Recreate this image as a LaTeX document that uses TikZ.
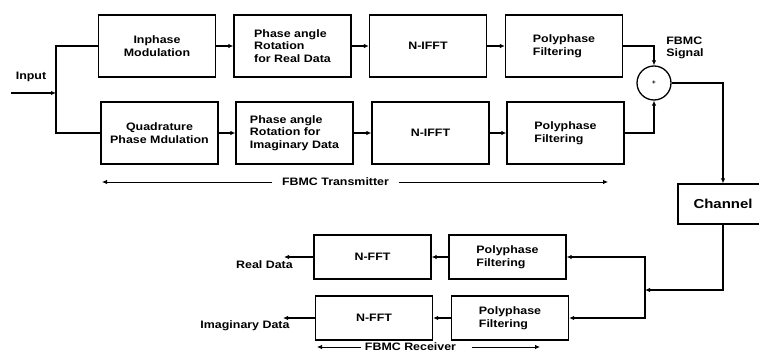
\documentclass[tikz,border=0pt]{standalone}
\usepackage{fontspec}
\setmainfont{Liberation Sans}[FakeStretch=1.15]
\usetikzlibrary{graphs,arrows.meta}
\tikzset{
    block/.style={
        draw,
        rectangle,
        line width=1.3pt,
        minimum width=117pt,
        minimum height=62pt,
        inner sep=2pt,
        align=left,
        font=\fontsize{10.8}{12.5}\selectfont\bfseries,
    },
    rxblock/.style={
        block,
        minimum height=44pt,
    },
    sumnode/.style={
        draw,
        circle,
        line width=1.3pt,
        minimum size=34pt,
        inner sep=0,
        font=\fontsize{6}{6}\selectfont\bfseries,
    },
    plaintext/.style={
        inner sep=0,
        align=left,
        font=\fontsize{10.8}{12.5}\selectfont\bfseries,
    },
    thin arrow/.style={
        line width=0.8pt,
    },
}

\begin{document}
\begin{tikzpicture}[x=1pt, y=-1pt, line width=1.2pt, >={Latex[length=5pt,width=4.5pt]}]
            \clip (0, 0) rectangle (759, 352);

            % transmitter
            \node[block, align=center] at (157, 46)    (inphase)  {Inphase\\Modulation};
            \node[block]               at (292.5, 46)  (rotreal)  {Phase angle\\Rotation\\for Real Data};
            \node[block, align=center] at (428, 46)    (ifftreal) {N-IFFT};
            \node[block]               at (564, 46)    (polyreal) {Polyphase\\Filtering};

            \node[block, align=center] at (159.5, 133) (quad)     {Quadrature\\Phase Mdulation};
            \node[block]               at (294.5, 133) (rotimag)  {Phase angle\\Rotation for\\Imaginary Data};
            \node[block, align=center] at (430.5, 133) (ifftimag) {N-IFFT};
            \node[block]               at (565.5, 133) (polyimag) {Polyphase\\Filtering};

            \node[sumnode] at (654, 83) (sum) {+};
            \node[block, minimum width=90pt, minimum height=40pt,
                  font=\fontsize{13}{15}\selectfont\bfseries] at (723, 204) (channel) {Channel};

            % receiver
            \node[rxblock]               at (507.5, 257) (polyrxreal) {Polyphase\\Filtering};
            \node[rxblock, align=center] at (372.5, 257) (fftreal)    {N-FFT};
            \node[rxblock]               at (510, 318)   (polyrximag) {Polyphase\\Filtering};
            \node[rxblock, align=center] at (374, 318)   (fftimag)    {N-FFT};

            % labels
            \node[plaintext] at (31, 77)     (input)    {Input};
            \node[plaintext] at (685, 48)    (fbmcsig)  {FBMC\\Signal};
            \node[plaintext] at (264.5, 265) (realdata) {Real Data};
            \node[plaintext] at (245, 326)   (imagdata) {Imaginary Data};
            \node[plaintext, inner xsep=9pt] at (335.5, 182) (txlabel) {FBMC Transmitter};
            \node[plaintext, inner xsep=3pt] at (410.5, 347) (rxlabel) {FBMC Receiver};

            \coordinate (inpstart) at (11, 93);
            \coordinate (fork)     at (56, 93);
            \coordinate (realout)  at (284, 257);
            \coordinate (imagout)  at (283, 318);
            \coordinate (split)    at (645, 290);
            \coordinate (txleft)   at (102, 182);
            \coordinate (txright)  at (608, 182);
            \coordinate (rxleft)   at (317, 347);
            \coordinate (rxright)  at (540, 347);

            \graph[use existing nodes]{
                inphase -> rotreal -> ifftreal -> polyreal ;
                quad -> rotimag -> ifftimag -> polyimag ;
                polyrxreal -> fftreal -> realout ;
                polyrximag -> fftimag -> imagout ;
                inpstart -> fork ;
            } ;

            \draw (fork) |- (inphase.west);
            \draw (fork) |- (quad.west);
            \draw[->] (polyreal.east) -| (sum.north);
            \draw[->] (polyimag.east) -| (sum.south);
            \draw[->] (sum.east) -| (channel.north);
            \draw[->] (channel.south) |- (split);
            \draw[->] (split) |- (polyrxreal.east);
            \draw[->] (split) |- (polyrximag.east);

            \draw[thin arrow, ->] (txlabel.west) -- (txleft);
            \draw[thin arrow, ->] (txlabel.east) -- (txright);
            \draw[thin arrow, ->] (rxlabel.west) -- (rxleft);
            \draw[thin arrow, ->, shorten <=12pt] (rxlabel.east) -- (rxright);
        \end{tikzpicture}
\end{document}
